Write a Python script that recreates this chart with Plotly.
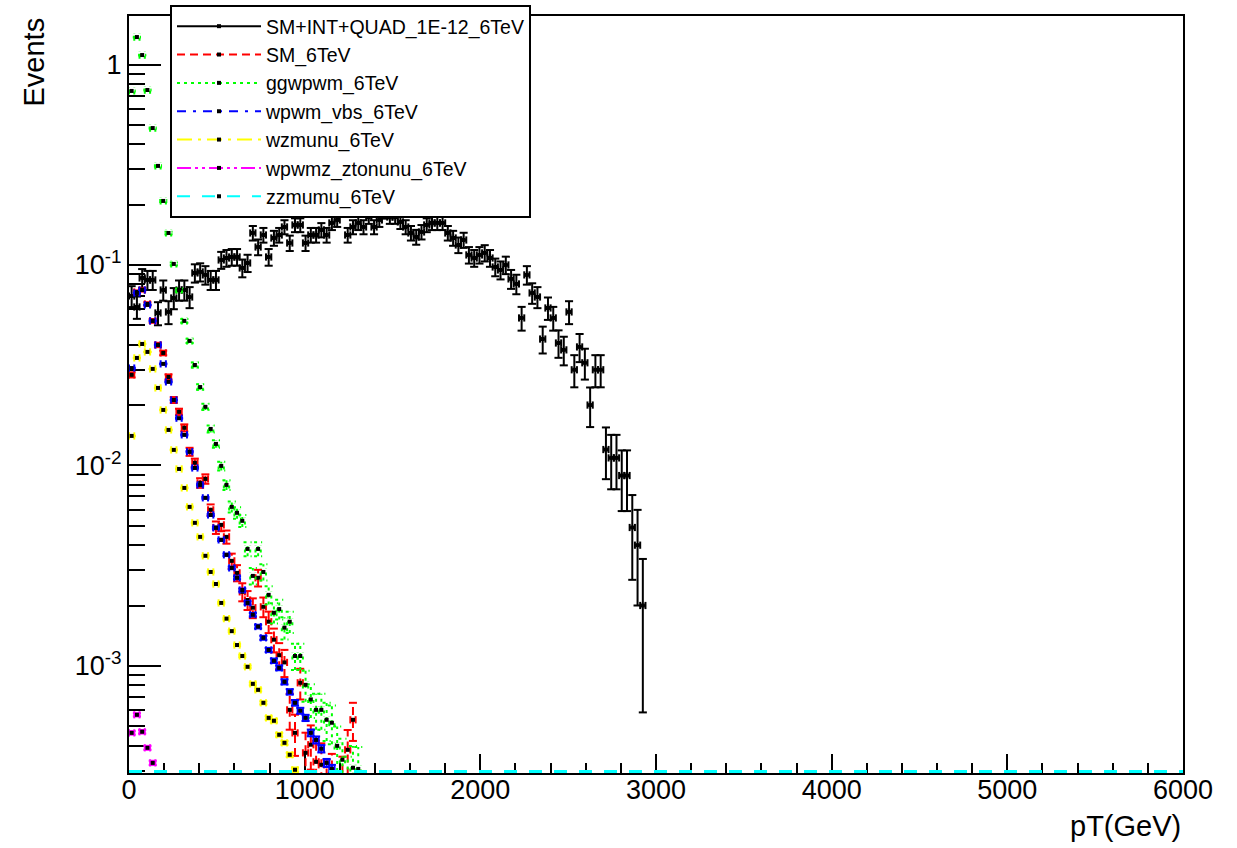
import math
import plotly.graph_objects as go

# Histogram binning: 30 GeV bins starting at 0
BIN_WIDTH = 30.0
X_MIN, X_MAX = 0.0, 6000.0
Y_MIN, Y_MAX = 2.92e-4, 1.746

# Bin contents (events per bin), first bins only; later bins are empty
sm_int_quad = [
    0.0700, 0.0617, 0.0861, 0.0842, 0.0842, 0.0576, 0.0750, 0.0583, 0.0684, 0.0750,
    0.0750, 0.0692, 0.0912, 0.0923, 0.0892, 0.0842, 0.0842, 0.1059, 0.1083, 0.1096,
    0.1096, 0.0966, 0.1023, 0.1444, 0.1229, 0.1411, 0.1096, 0.1363, 0.1411, 0.1547,
    0.1287, 0.1583, 0.1583, 0.1287, 0.1411, 0.1411, 0.1495, 0.1411, 0.1620, 0.1677,
    0.1880, 0.1411, 0.1547, 0.1620, 0.1547, 0.1735, 0.1547, 0.1677, 0.1838, 0.1735,
    0.1735, 0.1639, 0.1547, 0.1444, 0.1379, 0.1461, 0.1583, 0.1620, 0.1620, 0.1620,
    0.1444, 0.1363, 0.1258, 0.1332, 0.1122, 0.1083, 0.1122, 0.1148, 0.1083, 0.0977,
    0.0944, 0.1000, 0.0852, 0.0804, 0.0544, 0.0892, 0.0725, 0.0692, 0.0427, 0.0610,
    0.0544, 0.0408, 0.0377, 0.0583, 0.0300, 0.0390, 0.0325, 0.0200, 0.0300, 0.0300,
    0.0120, 0.0109, 0.0109, 0.0089, 0.0089, 0.0049, 0.0040, 0.0020,
]
sm = [
    0.0283, 0.0733, 0.0750, 0.0639, 0.0526, 0.0399, 0.0364, 0.0276, 0.0212, 0.0185,
    0.0154, 0.0117, 0.0103, 0.00818, 0.00856, 0.00600, 0.00490, 0.00505, 0.00440, 0.00334,
    0.00291, 0.00234, 0.00213, 0.00195, 0.00275, 0.00197, 0.00166, 0.00135, 0.00113, 0.00104,
    0.000603, 0.000463, 0.000823, 0.000368, 0.000404, 0.000332, 0.000321, 0.00026, 0.00028, 0.00022,
    0.00027, 0.000381, 0.000538,
]
ggwpwm = [
    0.738, 1.371, 1.115, 0.746, 0.482, 0.312, 0.2086, 0.1444, 0.1012, 0.0750,
    0.0526, 0.0418, 0.0317, 0.0246, 0.0196, 0.0152, 0.0128, 0.00994, 0.00799, 0.00621,
    0.00580, 0.00529, 0.00383, 0.00281, 0.00383, 0.00294, 0.00226, 0.00184, 0.00192, 0.00155,
    0.00166, 0.00112, 0.00112, 0.000804, 0.00068, 0.000603, 0.000603, 0.000538, 0.000520, 0.000399,
    0.00034, 0.00027, 0.00031, 0.000306,
]
wpwm_vbs = [
    0.0306, 0.0725, 0.0750, 0.0632, 0.0526, 0.0399, 0.0321, 0.0261, 0.0212, 0.0172,
    0.0142, 0.0117, 0.00971, 0.00799, 0.00689, 0.00566, 0.00488, 0.00425, 0.00358, 0.00308,
    0.00275, 0.00239, 0.00206, 0.00180, 0.00157, 0.00138, 0.00120, 0.00106, 0.000977, 0.000832,
    0.000742, 0.000654, 0.000597, 0.000550, 0.000463, 0.000427, 0.000386, 0.000328, 0.000306,
]
wzmunu = [
    0.01403, 0.03437, 0.04036, 0.03683, 0.03030, 0.02435, 0.01891, 0.01503, 0.01195, 0.00960,
    0.00772, 0.00621, 0.00517, 0.00440, 0.00354, 0.00294, 0.00256, 0.00206, 0.00172, 0.00149,
    0.00127, 0.00112, 0.000989, 0.000813, 0.000759, 0.000654, 0.000550, 0.000532, 0.000453, 0.000413,
    0.000360, 0.000303,
]
wpwmz_ztonunu = [0.000463, 0.000570, 0.000469, 0.000390, 0.000328]
zzmumu = []  # no filled bins inside the plotted range

# name, contents, per-event weight (for sqrt(sum w^2) errors), colour, line dash
samples = [
    ("SM+INT+QUAD_1E-12_6TeV", sm_int_quad, 1.0e-3, "#000000", "solid"),
    ("SM_6TeV", sm, 2.5e-5, "#ff0000", "8px,5px"),
    ("ggwpwm_6TeV", ggwpwm, 2.5e-5, "#00ff00", "3px,4px"),
    ("wpwm_vbs_6TeV", wpwm_vbs, 7.0e-7, "#0000ff", "9px,7px,3px,7px"),
    ("wzmunu_6TeV", wzmunu, 2.0e-7, "#ffff00", "15px,6px,3px,6px"),
    ("wpwmz_ztonunu_6TeV", wpwmz_ztonunu, 2.0e-7, "#ff00ff", "14px,4px,3px,4px,3px,4px"),
    ("zzmumu_6TeV", zzmumu, 2.0e-7, "#00ffff", "13px,12px"),
]

FONT = "Liberation Sans, Arial, Helvetica, sans-serif"

# error-bar end caps: half width along x (GeV) and half height along y (decades)
CAP_DX = 23.0
CAP_DLOG = 0.018


def error_segments(centers, values, errors):
    """Polyline (None-separated) tracing ROOT-style E1 error bars with end caps."""
    xs, ys = [], []
    floor = Y_MIN / 10.0
    half = BIN_WIDTH / 2.0
    up = 10.0 ** CAP_DLOG
    for x, v, e in zip(centers, values, errors):
        lo = max(v - e, floor)
        hi = v + e
        # vertical bar with horizontal caps
        xs += [x, x, None, x - CAP_DX, x + CAP_DX, None, x - CAP_DX, x + CAP_DX, None]
        ys += [lo, hi, None, lo, lo, None, hi, hi, None]
        # horizontal bar (bin width) with vertical caps
        xs += [x - half, x + half, None, x - half, x - half, None, x + half, x + half, None]
        ys += [v, v, None, v / up, v * up, None, v / up, v * up, None]
    return xs, ys


fig = go.Figure()

for i, (name, values, weight, color, dash) in enumerate(samples):
    group = f"g{i}"
    # legend entry: line sample in the sample's style with a black marker
    fig.add_trace(go.Scatter(
        x=[None], y=[None], name=name, legendgroup=group,
        mode="lines+markers",
        line=dict(color=color, width=2, dash=dash),
        marker=dict(color="black", symbol="square", size=4),
    ))
    if values:
        centers = [BIN_WIDTH * (k + 0.5) for k in range(len(values))]
        errors = [math.sqrt(v * weight) for v in values]
        ex, ey = error_segments(centers, values, errors)
        fig.add_trace(go.Scatter(
            x=ex, y=ey, name=name, legendgroup=group, showlegend=False,
            mode="lines", line=dict(color=color, width=2, dash=dash),
            connectgaps=False, hoverinfo="skip",
        ))
        fig.add_trace(go.Scatter(
            x=centers, y=values, name=name, legendgroup=group, showlegend=False,
            mode="markers",
            marker=dict(color="black", symbol="square", size=4),
        ))
    else:
        # empty sample sits on the axis floor over the whole pT range
        fig.add_trace(go.Scatter(
            x=[X_MIN, X_MAX], y=[Y_MIN, Y_MIN], name=name, legendgroup=group,
            showlegend=False, mode="lines",
            line=dict(color=color, width=6, dash=dash),
        ))

decades = [1e-3, 1e-2, 1e-1, 1.0]
decade_text = ["10<sup>-3</sup>", "10<sup>-2</sup>", "10<sup>-1</sup>", "1"]
minor_vals = [m * 10.0 ** e for e in range(-4, 1) for m in range(2, 10)
              if Y_MIN <= m * 10.0 ** e <= Y_MAX]

fig.update_layout(
    width=1237, height=848,
    margin=dict(l=129, r=54, t=16, b=75, autoexpand=False),
    paper_bgcolor="white", plot_bgcolor="white",
    font=dict(family=FONT, color="black"),
    showlegend=True,
    legend=dict(
        x=(170 - 129) / 1054, y=1 + (16 - 5) / 757, xanchor="left", yanchor="top",
        bgcolor="white", bordercolor="black", borderwidth=2,
        font=dict(family=FONT, size=19.5, color="black"),
        itemwidth=84, tracegroupgap=0, traceorder="normal",
    ),
    xaxis=dict(
        range=[X_MIN, X_MAX], showline=True, linecolor="black", linewidth=2, mirror=True,
        ticks="inside", ticklen=19, tickwidth=1.5, tickcolor="black",
        tick0=0, dtick=1000, tickfont=dict(size=27, family=FONT), ticklabelstandoff=-8,
        showgrid=False, zeroline=False, layer="below traces",
        minor=dict(ticks="inside", dtick=200, ticklen=10, tickwidth=1.5, tickcolor="black", showgrid=False),
    ),
    yaxis=dict(
        type="log", range=[math.log10(Y_MIN), math.log10(Y_MAX)],
        showline=True, linecolor="black", linewidth=2, mirror=True,
        ticks="inside", ticklen=32, tickwidth=1.5, tickcolor="black",
        tickmode="array", tickvals=decades, ticktext=decade_text,
        tickfont=dict(size=27, family=FONT),
        showgrid=False, zeroline=False, layer="below traces",
        minor=dict(ticks="inside", tickmode="array", tickvals=minor_vals, ticklen=16,
                   tickwidth=1.5, tickcolor="black", showgrid=False),
    ),
    annotations=[
        dict(text="Events", xref="paper", yref="paper", x=(33 - 129) / 1054, y=1.0,
             xanchor="center", yanchor="top", textangle=-90, showarrow=False,
             font=dict(size=29, family=FONT)),
        dict(text="pT(GeV)", xref="paper", yref="paper", x=1.0, y=-(826 - 773) / 757,
             xanchor="right", yanchor="middle", showarrow=False,
             font=dict(size=29, family=FONT)),
    ],
)

fig.write_html("out.html")
